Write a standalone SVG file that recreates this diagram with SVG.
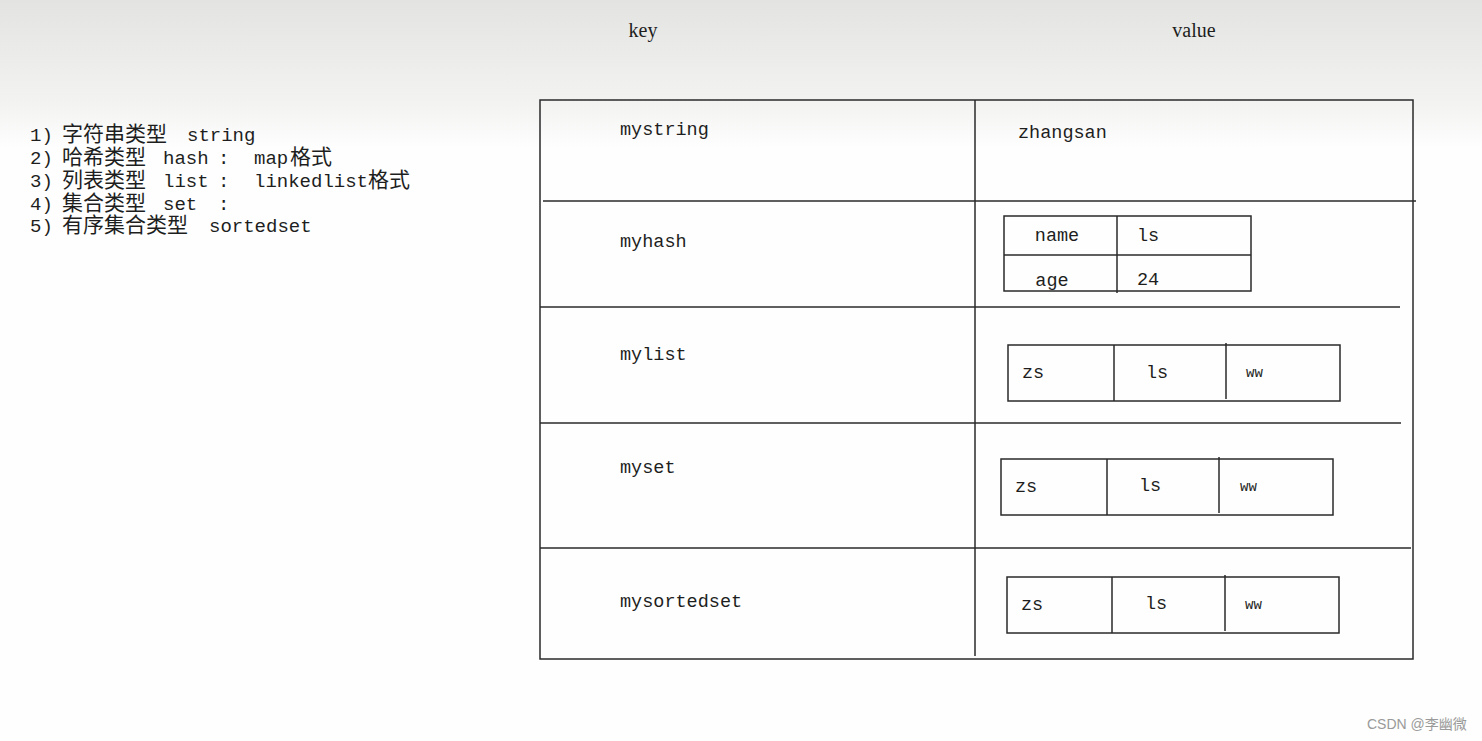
<svg xmlns="http://www.w3.org/2000/svg" width="1482" height="741" viewBox="0 0 1482 741">
<defs>
<linearGradient id="bg" x1="0" y1="0" x2="0" y2="1">
<stop offset="0" stop-color="#e3e4e2"/>
<stop offset="0.14" stop-color="#f3f4f2"/>
<stop offset="0.2" stop-color="#fdfefd"/>
<stop offset="1" stop-color="#fdfefd"/>
</linearGradient>
<style>
.ln{stroke:#2a2a2a;stroke-width:1.5;fill:none}
.box{stroke:#2a2a2a;stroke-width:1.5;fill:none}
.m{font-family:"Liberation Mono","DejaVu Sans Mono",monospace;font-size:18.5px;fill:#1e1e1e}
.s{font-family:"Liberation Mono","DejaVu Sans Mono",monospace;font-size:14px;fill:#1e1e1e}
.h{font-family:"Liberation Serif",serif;font-size:20px;fill:#1e1e1e}
.c{font-family:"Liberation Mono","Noto Sans CJK SC",monospace;font-size:19px;fill:#1e1e1e}
.cj{font-family:"Noto Sans CJK SC",sans-serif;font-size:21px}
.wm{font-family:"Liberation Sans","Noto Sans CJK SC",sans-serif;font-size:14px;fill:#9a9a9a}
</style>
</defs>
<rect width="1482" height="741" fill="url(#bg)"/>

<g id="headers">
<text class="h" x="643" y="37" text-anchor="middle">key</text>
<text class="h" x="1194" y="37" text-anchor="middle">value</text>
</g>

<g id="type-list">
<text class="c" y="141"><tspan x="30">1)</tspan><tspan class="cj" x="62">字符串类型</tspan><tspan x="187">string</tspan></text>
<text class="c" y="164"><tspan x="30">2)</tspan><tspan class="cj" x="62">哈希类型</tspan><tspan x="163">hash</tspan><tspan x="218">:</tspan><tspan x="254">map</tspan><tspan class="cj" x="290">格式</tspan></text>
<text class="c" y="187"><tspan x="30">3)</tspan><tspan class="cj" x="62">列表类型</tspan><tspan x="163">list</tspan><tspan x="218">:</tspan><tspan x="254">linkedlist</tspan><tspan class="cj" x="368">格式</tspan></text>
<text class="c" y="210"><tspan x="30">4)</tspan><tspan class="cj" x="62">集合类型</tspan><tspan x="163">set</tspan><tspan x="218">:</tspan></text>
<text class="c" y="232"><tspan x="30">5)</tspan><tspan class="cj" x="62">有序集合类型</tspan><tspan x="209">sortedset</tspan></text>
</g>

<g id="table-frame">
<rect class="box" x="540" y="100" width="873" height="559"/>
<line class="ln" x1="975" y1="100" x2="975" y2="656"/>
<line class="ln" x1="543" y1="201" x2="1416" y2="201"/>
<line class="ln" x1="540" y1="307" x2="1400" y2="307"/>
<line class="ln" x1="540" y1="423" x2="1401" y2="423"/>
<line class="ln" x1="540" y1="548" x2="1411" y2="548"/>
</g>

<g id="row-string">
<text class="m" x="620" y="135">mystring</text>
<text class="m" x="1018" y="138">zhangsan</text>
</g>

<g id="row-hash">
<text class="m" x="620" y="247">myhash</text>
<rect class="box" x="1004" y="216" width="247" height="75"/>
<line class="ln" x1="1004" y1="255" x2="1251" y2="255"/>
<line class="ln" x1="1117" y1="216" x2="1117" y2="293"/>
<text class="m" x="1057" y="241" text-anchor="middle">name</text>
<text class="m" x="1137" y="241">ls</text>
<text class="m" x="1052" y="286" text-anchor="middle">age</text>
<text class="m" x="1137" y="285">24</text>
</g>

<g id="row-list">
<text class="m" x="620" y="360">mylist</text>
<rect class="box" x="1008" y="345" width="332" height="56"/>
<line class="ln" x1="1114" y1="345" x2="1114" y2="401"/>
<line class="ln" x1="1226" y1="343" x2="1226" y2="399"/>
<text class="m" x="1022" y="378">zs</text>
<text class="m" x="1146" y="378">ls</text>
<text class="s" x="1246" y="377">ww</text>
</g>

<g id="row-set">
<text class="m" x="620" y="473">myset</text>
<rect class="box" x="1001" y="459" width="332" height="56"/>
<line class="ln" x1="1107" y1="459" x2="1107" y2="515"/>
<line class="ln" x1="1219" y1="457" x2="1219" y2="513"/>
<text class="m" x="1015" y="492">zs</text>
<text class="m" x="1139" y="491">ls</text>
<text class="s" x="1240" y="491">ww</text>
</g>

<g id="row-sortedset">
<text class="m" x="620" y="607">mysortedset</text>
<rect class="box" x="1007" y="577" width="332" height="56"/>
<line class="ln" x1="1112" y1="577" x2="1112" y2="633"/>
<line class="ln" x1="1225" y1="575" x2="1225" y2="631"/>
<text class="m" x="1021" y="610">zs</text>
<text class="m" x="1145" y="609">ls</text>
<text class="s" x="1245" y="609">ww</text>
</g>

<g id="watermark">
<text class="wm" x="1367" y="729">CSDN @李幽微</text>
</g>
</svg>
